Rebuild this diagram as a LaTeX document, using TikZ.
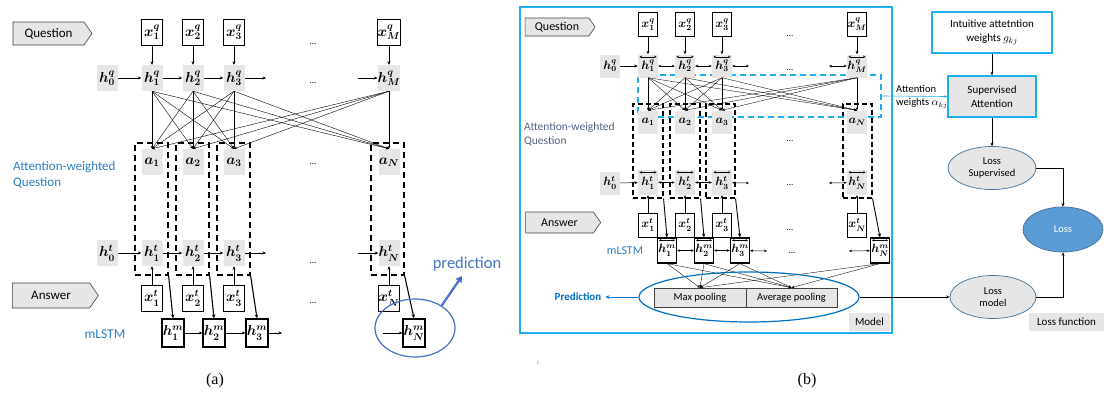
\documentclass[tikz,border=0pt]{standalone}
\usepackage{fontspec}
\setmainfont{Carlito}
\newfontfamily\capfont{Liberation Serif}
\usepackage{bm}
\usetikzlibrary{arrows.meta,shapes.symbols,shapes.geometric,calc}
\definecolor{gfill}{RGB}{231,230,230}
\definecolor{cyanf}{RGB}{30,176,236}
\definecolor{blueA}{RGB}{46,125,195}
\definecolor{predblue}{RGB}{68,114,196}
\definecolor{elblue}{RGB}{0,112,192}
\definecolor{slate}{RGB}{84,98,130}
\definecolor{lossfill}{RGB}{91,155,213}
\definecolor{lossedge}{RGB}{65,113,156}
\newcommand\hlab[2]{\raisebox{-1.8pt}{$\bm{h_{#2}^{#1}}$}}
\tikzset{
 arr/.style={-{Stealth[length=3.5pt,width=3pt]},line width=0.5pt},
 arrl/.style={-{Stealth[length=3pt,width=2.6pt]},line width=0.4pt},
 barr/.style={{Stealth[length=3pt,width=2.6pt]}-{Stealth[length=3pt,width=2.6pt]},line width=0.5pt},
 sbarr/.style={{Stealth[length=2.4pt,width=2.4pt]}-{Stealth[length=2.4pt,width=2.4pt]},line width=0.45pt},
 tarr/.style={-{Stealth[length=4pt,width=3.5pt]},line width=1.1pt},
 tag/.style={signal,signal to=east,signal pointer angle=110,draw=black!75,fill=gfill,line width=0.6pt,inner sep=0pt},
 mfa/.style={font=\boldmath\fontsize{14}{14}\selectfont},
 mfb/.style={font=\boldmath\fontsize{12}{12}\selectfont},
 ga/.style={fill=gfill,minimum width=21pt,minimum height=26pt,inner sep=0pt,mfa},
 xa/.style={draw=black,line width=0.6pt,fill=white,minimum width=21pt,minimum height=26pt,inner sep=0pt,mfa},
 ma/.style={draw=black,line width=1.3pt,fill=white,minimum width=22pt,minimum height=28pt,inner sep=0pt,mfa},
 dbox/.style={draw=black,line width=1.2pt,dash pattern=on 6pt off 4pt,inner sep=0pt},
 dotn/.style={anchor=base,font=\fontsize{9}{9}\selectfont,inner sep=0pt},
 dblar/.style={path picture={\draw[sbarr] ([xshift=1.5pt,yshift=-2.3pt]path picture bounding box.north west) -- ([xshift=-1.5pt,yshift=-2.3pt]path picture bounding box.north east);}},
 gb/.style={fill=gfill,minimum width=20pt,minimum height=23pt,inner sep=0pt,mfb},
 xb/.style={draw=black,line width=0.6pt,fill=white,minimum width=19pt,minimum height=24pt,inner sep=0pt,mfb},
 mb/.style={draw=black,line width=1.2pt,fill=white,minimum width=19pt,minimum height=25pt,inner sep=0pt,mfb,dblar},
 pool/.style={draw=black!75,line width=0.6pt,fill=gfill,minimum height=19pt,inner sep=0pt,font=\fontsize{10.5}{10.5}\selectfont},
 ell/.style={ellipse,draw=lossedge,line width=0.7pt,fill=gfill,inner sep=0pt,align=center,font=\fontsize{10.5}{12.5}\selectfont},
}
\begin{document}
\begin{tikzpicture}[x=1pt,y=-1pt]
\useasboundingbox (0,0) rectangle (1104,394);
% ================= Panel (a) =================
\foreach \i/\x in {1/151.5,2/192.5,3/233.5,N/387.5}
  \node[dbox,minimum width=33pt,minimum height=132pt] (da\i) at (\x,209) {};
\node[tag,minimum width=79pt,minimum height=23pt,font=\fontsize{13}{13}\selectfont] (qa) at (48.5,33.5) {Question};
\node[tag,minimum width=86pt,minimum height=25pt,font=\fontsize{13}{13}\selectfont] (ansa) at (51,295.5) {Answer};
\node[ga] (hqa0) at (107,78) {$\bm{h_{0}^{q}}$};
\node[ga] (hta0) at (107,253) {$\bm{h_{0}^{t}}$};
\foreach \i/\x in {1/152,2/193,3/234,M/389}{
  \node[xa] (xqa\i) at (\x,32) {$\bm{x_{\i}^{q}}$};
  \node[ga] (hqa\i) at (\x,78) {$\bm{h_{\i}^{q}}$};
  \draw[arr] (xqa\i) -- (hqa\i);
}
\foreach \i/\x in {1/152,2/193,3/234,N/389}{
  \node[ga] (aa\i) at (\x,162) {$\bm{a_{\i}}$};
  \node[ga] (hta\i) at (\x,253) {$\bm{h_{\i}^{t}}$};
  \node[xa] (xta\i) at (\x,298) {$\bm{x_{\i}^{t}}$};
  \draw[arr] (xta\i) -- (hta\i);
}
\foreach \i/\x in {1/173,2/214,3/257,N/414}{
  \node[ma] (hma\i) at (\x,333) {$\bm{h_{\i}^{m}}$};
  \draw[tarr] (da\i.south east) -- (hma\i.north);
}
\foreach \i in {1,2,3,M}{\foreach \j in {1,2,3,N}{\draw[arrl] (hqa\i.south) -- (aa\j.north);}}
\coordinate (qend) at (266,78); \coordinate (qstart) at (358,78);
\coordinate (tend) at (266,253); \coordinate (tstart) at (358,253);
\coordinate (mend) at (282,333); \coordinate (mstart) at (383,333);
\draw[arr] (hqa0) -- (hqa1); \draw[arr] (hqa1) -- (hqa2); \draw[arr] (hqa2) -- (hqa3); \draw[arr] (hqa3) -- (qend); \draw[arr] (qstart) -- (hqaM);
\draw[arr] (hta0) -- (hta1); \draw[arr] (hta1) -- (hta2); \draw[arr] (hta2) -- (hta3); \draw[arr] (hta3) -- (tend); \draw[arr] (tstart) -- (htaN);
\draw[arr] (hma1) -- (hma2); \draw[arr] (hma2) -- (hma3); \draw[arr] (hma3) -- (mend); \draw[arr] (mstart) -- (hmaN);
\node[dotn] (dta1) at (313,44) {...};
\node[dotn] (dta2) at (313,83) {...};
\node[dotn] (dta3) at (313,164) {...};
\node[dotn] (dta4) at (313,263) {...};
\node[dotn] (dta5) at (313,303) {...};
\node[anchor=west,align=left,text=blueA,font=\fontsize{13}{16.5}\selectfont,inner sep=0pt] (awqa) at (13,175) {Attention-weighted\\Question};
\node[text=blueA,font=\fontsize{13.5}{13.5}\selectfont,inner sep=0pt] (mla) at (105,334) {mLSTM};
\node[ellipse,draw=predblue,line width=1.2pt,minimum width=80pt,minimum height=58pt,inner sep=0pt] (pell) at (415,328) {};
\node[text=predblue,font=\fontsize{16.5}{16.5}\selectfont,inner sep=0pt] (predta) at (467,264) {prediction};
\coordinate (predtip) at (462,276);
\draw[predblue,line width=2.2pt,-{Triangle[length=6pt,width=7pt]}] (pell.40) -- (predtip);
\node[font=\capfont\fontsize{16}{16}\selectfont,inner sep=0pt] (capa) at (215,381) {(a)};
% ================= Panel (b) =================
\node[draw=cyanf,line width=1.3pt,minimum width=372pt,minimum height=326pt,inner sep=0pt] (frameb) at (706,170) {};
\node[fill=gfill,minimum width=41pt,minimum height=18pt,inner sep=0pt,font=\fontsize{11}{11}\selectfont] (modelb) at (869.5,322) {Model};
\foreach \i/\x/\w in {1/648/30,2/685/30,3/720.5/29,N/857.5/29}
  \node[dbox,line width=1.1pt,dash pattern=on 5pt off 3pt,minimum width=\w pt,minimum height=94pt] (db\i) at (\x,151) {};
\node[draw=cyanf,line width=1.3pt,dash pattern=on 6pt off 4pt,minimum width=243pt,minimum height=42pt,inner sep=0pt] (attbox) at (759.5,96) {};
\node[tag,minimum width=70pt,minimum height=18pt,font=\fontsize{12}{12}\selectfont] (qb) at (557,27) {Question};
\node[tag,minimum width=75pt,minimum height=21pt,font=\fontsize{12}{12}\selectfont] (ansb) at (559.5,222.5) {Answer};
\node[gb] (hqb0) at (610,66) {$\bm{h_{0}^{q}}$};
\node[gb] (htb0) at (610,183) {$\bm{h_{0}^{t}}$};
\foreach \i/\x in {1/648,2/685,3/722,M/857}{
  \node[xb] (xqb\i) at (\x,24.5) {$\bm{x_{\i}^{q}}$};
  \node[gb,dblar] (hqb\i) at (\x,66) {\hlab{q}{\i}};
  \draw[arr] (xqb\i) -- (hqb\i);
}
\foreach \i/\x in {1/648,2/685,3/722,N/857}{
  \node[gb] (ab\i) at (\x,122) {$\bm{a_{\i}}$};
  \node[gb,dblar,minimum height=25pt] (htb\i) at (\x,182.5) {\hlab{t}{\i}};
  \node[xb] (xtb\i) at (\x,225) {$\bm{x_{\i}^{t}}$};
  \draw[arr] (xtb\i) -- (htb\i);
}
\foreach \i/\x in {1/667,2/704,3/740,N/880}{
  \node[mb] (hmb\i) at (\x,250.5) {\hlab{m}{\i}};
  \draw[tarr,line width=0.9pt] (db\i.south east) -- (hmb\i.north);
}
\foreach \i in {1,2,3,M}{\foreach \j in {1,2,3,N}{\draw[arrl,line width=0.35pt] (hqb\i.south) -- (ab\j.north);}}
\coordinate (qbend) at (749,66); \coordinate (qbstart) at (829,66);
\coordinate (tbend) at (749,183); \coordinate (tbstart) at (829,183);
\coordinate (mbend) at (767,251); \coordinate (mbstart) at (849,251);
\draw[arr] (hqb0) -- (hqb1); \draw[barr] (hqb1) -- (hqb2); \draw[barr] (hqb2) -- (hqb3); \draw[barr] (hqb3) -- (qbend); \draw[barr] (qbstart) -- (hqbM);
\draw[arr] (htb0) -- (htb1); \draw[barr] (htb1) -- (htb2); \draw[barr] (htb2) -- (htb3); \draw[barr] (htb3) -- (tbend); \draw[barr] (tbstart) -- (htbN);
\draw[barr] (hmb1) -- (hmb2); \draw[barr] (hmb2) -- (hmb3); \draw[barr] (hmb3) -- (mbend); \draw[barr] (mbstart) -- (hmbN);
\node[dotn] (dtb1) at (790,36) {...};
\node[dotn] (dtb2) at (790,70) {...};
\node[dotn] (dtb3) at (790,141) {...};
\node[dotn] (dtb4) at (790,185) {...};
\node[dotn] (dtb5) at (790,230) {...};
\node[dotn] (dtb6) at (792,253) {...};
\node[anchor=west,align=left,text=slate,font=\fontsize{11.5}{14}\selectfont,inner sep=0pt] (awqb) at (524,134) {Attention-weighted\\Question};
\node[text=blueA,font=\fontsize{12}{12}\selectfont,inner sep=0pt] (mlb) at (625,251) {mLSTM};
\node[pool,minimum width=92pt] (maxp) at (700,297.5) {Max pooling};
\node[pool,minimum width=91pt] (avgp) at (791.5,297.5) {Average pooling};
\foreach \i in {1,2,3,N}{
  \draw[arrl,line width=0.35pt] (hmb\i.south) -- (maxp.north);
  \draw[arrl,line width=0.35pt] (hmb\i.south) -- (avgp.north);
}
\node[ellipse,draw=elblue,line width=1.2pt,minimum width=220pt,minimum height=50pt,inner sep=0pt] (predell) at (749,297) {};
\node[text=elblue,font=\bfseries\fontsize{11}{11}\selectfont,inner sep=0pt] (predb) at (578,297) {Prediction};
\draw[elblue,line width=1pt,-{Stealth[length=4pt,width=3.5pt]}] (predell.west) -- ([xshift=4pt]predb.east);
% right side
\node[draw=cyanf,line width=1.3pt,fill=white,minimum width=120pt,minimum height=41pt,align=center,inner sep=0pt,font=\fontsize{11}{13.5}\selectfont] (intu) at (992,32.5) {Intuitive attetntion\\weights $g_{kj}$};
\node[draw=cyanf,line width=1.3pt,fill=gfill,minimum width=88pt,minimum height=41pt,align=center,inner sep=0pt,font=\fontsize{11}{13.5}\selectfont] (supatt) at (992,96.5) {Supervised\\Attention};
\node[ell,minimum width=88pt,minimum height=43pt] (losssup) at (992,168) {Loss\\Supervised};
\node[ell,fill=lossfill,text=white,minimum width=80pt,minimum height=45pt] (loss) at (1063,229.5) {Loss};
\node[ell,minimum width=86pt,minimum height=43pt] (lossm) at (993,297) {Loss\\model};
\node[fill=gfill,minimum width=75pt,minimum height=18pt,inner sep=0pt,font=\fontsize{11}{11}\selectfont] (lossf) at (1066.5,322) {Loss function};
\node[anchor=west,align=left,inner sep=0pt,font=\fontsize{10.5}{12.5}\selectfont] (attw) at (896,97) {Attention\\weights $\alpha_{kj}$};
\draw[cyanf,line width=0.6pt,-{Stealth[length=3pt,width=2.6pt]}] (attbox.east) -- (supatt.west);
\draw[arr] (intu) -- (supatt);
\draw[arr] (supatt) -- (losssup);
\draw[arr] (losssup.east) -| (loss.north);
\draw[arr] (lossm.east) -| (loss.south);
\draw[arr] (predell.east) -- (lossm.west);
\node[text=black!50,font=\fontsize{5}{5}\selectfont,inner sep=0pt] (pgn) at (538,363) {1};
\node[font=\capfont\fontsize{16}{16}\selectfont,inner sep=0pt] (capb) at (807,381) {(b)};
\end{tikzpicture}
\end{document}
